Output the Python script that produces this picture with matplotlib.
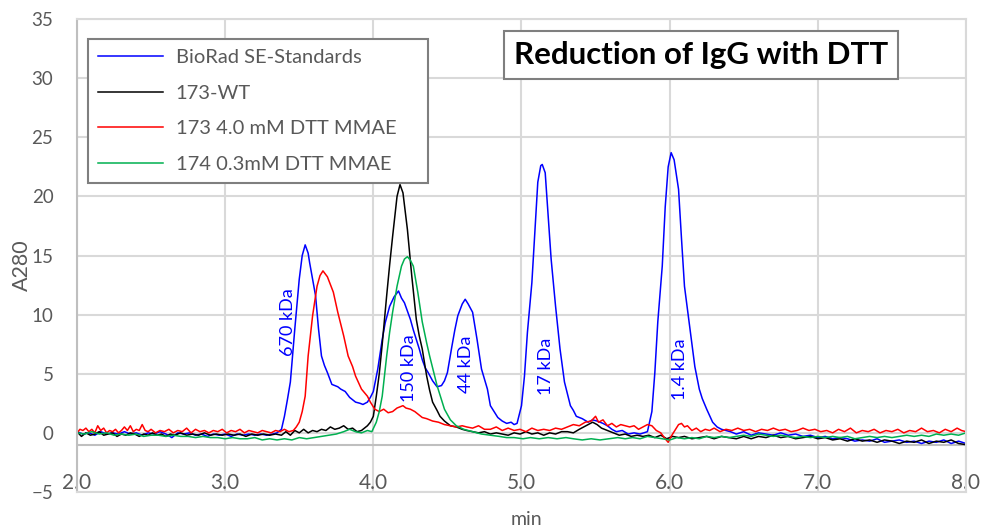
import matplotlib
matplotlib.use('Agg')
import matplotlib.pyplot as plt

plt.rcParams['font.family'] = ['Lato', 'DejaVu Sans']

# BioRad SE-Standards
blue_t = [2.00, 2.04, 2.08, 2.12, 2.16, 2.20, 2.24, 2.28, 2.32, 2.36, 2.40, 2.44, 2.48, 2.52, 2.56, 2.60,
          2.64, 2.68, 2.72, 2.76, 2.80, 2.84, 2.88, 2.92, 2.96, 3.00, 3.04, 3.08, 3.12, 3.16, 3.20, 3.24,
          3.28, 3.32, 3.35, 3.38, 3.40, 3.42, 3.44, 3.47, 3.50, 3.52, 3.54, 3.56, 3.57, 3.59, 3.61, 3.63,
          3.65, 3.67, 3.69, 3.72, 3.74, 3.76, 3.78, 3.81, 3.84, 3.86, 3.88, 3.91, 3.93, 3.96, 3.98, 4.00,
          4.03, 4.06, 4.08, 4.11, 4.14, 4.17, 4.19, 4.21, 4.23, 4.25, 4.27, 4.29, 4.31, 4.33, 4.35, 4.37,
          4.40, 4.43, 4.46, 4.48, 4.50, 4.53, 4.55, 4.57, 4.60, 4.62, 4.64, 4.67, 4.70, 4.73, 4.77, 4.79,
          4.82, 4.84, 4.87, 4.90, 4.93, 4.95, 4.97, 4.99, 5.00, 5.02, 5.04, 5.07, 5.09, 5.11, 5.13, 5.14,
          5.16, 5.18, 5.20, 5.23, 5.26, 5.29, 5.31, 5.33, 5.35, 5.37, 5.41, 5.45, 5.48, 5.51, 5.55, 5.58,
          5.61, 5.64, 5.68, 5.72, 5.76, 5.80, 5.85, 5.88, 5.90, 5.92, 5.95, 5.97, 5.99, 6.01, 6.03, 6.06,
          6.08, 6.10, 6.14, 6.17, 6.20, 6.22, 6.25, 6.29, 6.32, 6.35, 6.41, 6.45, 6.50, 6.55, 6.60, 6.65,
          6.70, 6.75, 6.80, 6.85, 6.90, 6.95, 7.00, 7.05, 7.10, 7.15, 7.20, 7.25, 7.30, 7.35, 7.40, 7.45,
          7.50, 7.55, 7.60, 7.65, 7.70, 7.75, 7.80, 7.85, 7.90, 7.95, 8.00]
blue_a = [0.1, -0.1, 0.0, -0.2, 0.1, -0.1, 0.0, -0.1, 0.1, -0.1, 0.0, -0.2, 0.0, -0.1, 0.1, -0.1,
          -0.4, 0.0, -0.1, 0.0, -0.2, -0.1, -0.3, -0.1, -0.2, -0.1, -0.3, -0.1, -0.2, -0.1, -0.2, -0.1,
          -0.2, -0.1, 0.0, 0.3, 1.4, 2.8, 4.3, 8.8, 13.0, 15.0, 15.9, 15.2, 14.4, 13.0, 11.6, 8.8,
          6.5, 5.7, 5.1, 4.1, 4.0, 3.9, 3.7, 3.5, 3.0, 2.8, 2.6, 2.5, 2.4, 2.6, 3.0, 3.5,
          5.4, 7.9, 9.3, 10.7, 11.5, 12.0, 11.4, 11.0, 10.3, 9.6, 8.7, 7.9, 7.1, 6.2, 5.5, 5.1,
          4.4, 3.9, 4.0, 4.4, 5.1, 7.3, 8.7, 9.9, 10.9, 11.3, 10.9, 10.2, 7.9, 5.4, 3.7, 2.3,
          1.7, 1.3, 1.0, 0.8, 0.9, 0.7, 0.8, 1.8, 2.3, 4.8, 8.5, 12.7, 16.9, 21.2, 22.6, 22.7,
          22.0, 18.3, 14.7, 10.7, 7.1, 4.3, 3.3, 2.3, 1.9, 1.4, 1.2, 0.9, 1.1, 1.0, 0.8, 0.6,
          0.3, 0.1, 0.2, -0.1, 0.0, -0.1, 0.1, 1.8, 5.1, 9.4, 14.1, 19.1, 22.5, 23.7, 23.1, 20.6,
          16.4, 12.4, 8.5, 5.6, 3.7, 2.9, 2.0, 0.9, 0.5, 0.3, 0.1, -0.1, 0.1, -0.2, 0.0, -0.1,
          -0.2, 0.0, -0.2, -0.1, -0.3, -0.2, -0.4, -0.3, -0.5, -0.4, -0.5, -0.7, -0.6, -0.7, -0.5, -0.8,
          -0.7, -0.6, -0.8, -0.7, -0.9, -0.7, -0.8, -0.6, -0.9, -0.7, -0.9]

# 173-WT
black_t = [2.00, 2.03, 2.06, 2.09, 2.12, 2.15, 2.18, 2.21, 2.24, 2.27, 2.30, 2.33, 2.36, 2.39, 2.42, 2.45,
           2.48, 2.51, 2.54, 2.57, 2.60, 2.63, 2.66, 2.70, 2.74, 2.78, 2.82, 2.86, 2.90, 2.94, 2.98, 3.02,
           3.06, 3.10, 3.14, 3.18, 3.22, 3.26, 3.30, 3.34, 3.38, 3.41, 3.44, 3.47, 3.50, 3.53, 3.56, 3.59,
           3.62, 3.65, 3.68, 3.71, 3.74, 3.77, 3.80, 3.83, 3.86, 3.89, 3.92, 3.94, 3.96, 3.98, 4.00, 4.02,
           4.04, 4.06, 4.09, 4.11, 4.13, 4.16, 4.18, 4.20, 4.23, 4.26, 4.29, 4.31, 4.33, 4.36, 4.38, 4.40,
           4.43, 4.45, 4.48, 4.52, 4.56, 4.60, 4.63, 4.67, 4.71, 4.75, 4.79, 4.83, 4.87, 4.91, 4.95, 4.99,
           5.03, 5.07, 5.11, 5.15, 5.19, 5.23, 5.27, 5.31, 5.35, 5.39, 5.42, 5.45, 5.48, 5.51, 5.54, 5.58,
           5.62, 5.66, 5.70, 5.74, 5.78, 5.82, 5.86, 5.90, 5.94, 5.98, 6.02, 6.06, 6.10, 6.15, 6.20, 6.25,
           6.30, 6.35, 6.40, 6.45, 6.50, 6.55, 6.60, 6.65, 6.70, 6.75, 6.80, 6.85, 6.90, 6.95, 7.00, 7.05,
           7.10, 7.15, 7.20, 7.25, 7.30, 7.35, 7.40, 7.45, 7.50, 7.55, 7.60, 7.65, 7.70, 7.75, 7.80, 7.85,
           7.90, 7.95, 8.00]
black_a = [0.1, -0.3, 0.0, -0.2, -0.1, 0.1, -0.2, -0.1, 0.0, -0.3, -0.1, -0.2, 0.0, -0.1, -0.3, -0.1,
           -0.2, 0.0, -0.2, -0.1, -0.3, -0.1, -0.2, 0.0, -0.2, -0.1, -0.2, 0.0, -0.2, -0.1, -0.2, -0.1,
           -0.2, -0.1, -0.3, -0.1, -0.2, -0.1, -0.2, -0.1, -0.2, 0.1, -0.2, 0.2, 0.0, 0.3, 0.0, 0.2,
           0.1, 0.3, 0.2, 0.5, 0.3, 0.4, 0.6, 0.3, 0.4, 0.1, 0.2, 0.4, 0.6, 0.9, 1.4, 3.1,
           5.0, 7.5, 11.6, 14.2, 16.6, 20.0, 21.0, 20.3, 17.2, 13.2, 9.6, 8.2, 7.1, 4.8, 3.6, 2.6,
           1.9, 1.4, 1.0, 0.6, 0.5, 0.3, 0.2, 0.1, 0.0, 0.1, -0.1, 0.0, -0.1, -0.2, 0.0, -0.1,
           0.1, -0.1, 0.0, -0.2, 0.0, -0.1, 0.1, 0.1, 0.0, 0.3, 0.5, 0.7, 0.9, 0.7, 0.4, 0.2,
           0.0, -0.2, -0.1, -0.3, -0.2, -0.3, -0.2, -0.4, -0.2, -0.5, -0.3, -0.4, -0.3, -0.5, -0.4, -0.3,
           -0.5, -0.3, -0.4, -0.5, -0.3, -0.5, -0.3, -0.4, -0.2, -0.4, -0.3, -0.5, -0.4, -0.3, -0.5, -0.4,
           -0.6, -0.5, -0.7, -0.5, -0.7, -0.6, -0.8, -0.6, -0.7, -0.9, -0.7, -0.8, -0.6, -0.9, -0.7, -0.8,
           -0.6, -0.9, -1.0]

# 173 4.0 mM DTT MMAE
red_t = [2.00, 2.02, 2.04, 2.06, 2.08, 2.10, 2.12, 2.14, 2.16, 2.18, 2.20, 2.22, 2.24, 2.26, 2.28, 2.30,
         2.32, 2.34, 2.36, 2.38, 2.40, 2.42, 2.44, 2.46, 2.48, 2.50, 2.53, 2.56, 2.59, 2.62, 2.65, 2.68,
         2.71, 2.74, 2.77, 2.80, 2.83, 2.86, 2.89, 2.92, 2.95, 2.98, 3.01, 3.04, 3.07, 3.10, 3.13, 3.16,
         3.19, 3.22, 3.25, 3.28, 3.31, 3.34, 3.37, 3.40, 3.43, 3.46, 3.48, 3.50, 3.52, 3.54, 3.56, 3.59,
         3.62, 3.64, 3.66, 3.69, 3.73, 3.76, 3.80, 3.83, 3.86, 3.88, 3.92, 3.96, 3.98, 4.01, 4.04, 4.07,
         4.10, 4.13, 4.16, 4.18, 4.20, 4.22, 4.25, 4.28, 4.31, 4.33, 4.36, 4.40, 4.44, 4.48, 4.52, 4.56,
         4.60, 4.63, 4.67, 4.71, 4.75, 4.79, 4.83, 4.87, 4.91, 4.95, 4.99, 5.03, 5.07, 5.11, 5.15, 5.19,
         5.23, 5.27, 5.31, 5.35, 5.39, 5.43, 5.47, 5.50, 5.52, 5.55, 5.58, 5.61, 5.64, 5.67, 5.70, 5.73,
         5.76, 5.79, 5.82, 5.85, 5.88, 5.91, 5.94, 5.97, 5.99, 6.01, 6.03, 6.06, 6.08, 6.10, 6.12, 6.15,
         6.18, 6.21, 6.24, 6.27, 6.30, 6.34, 6.38, 6.42, 6.46, 6.50, 6.54, 6.58, 6.62, 6.66, 6.70, 6.74,
         6.78, 6.82, 6.86, 6.90, 6.94, 6.98, 7.02, 7.06, 7.10, 7.14, 7.18, 7.22, 7.26, 7.30, 7.34, 7.38,
         7.42, 7.46, 7.50, 7.54, 7.58, 7.62, 7.66, 7.70, 7.74, 7.78, 7.82, 7.86, 7.90, 7.94, 7.97, 8.00]
red_a = [0.0, 0.3, 0.2, 0.4, 0.1, 0.3, 0.0, 0.6, 0.2, 0.4, 0.0, 0.2, 0.1, 0.3, 0.0, 0.2,
         0.5, 0.2, 0.6, 0.1, 0.3, 0.2, 0.7, 0.2, 0.1, 0.3, 0.0, 0.2, 0.1, 0.3, 0.0, 0.2,
         0.1, 0.4, 0.0, 0.3, 0.1, 0.2, 0.0, 0.2, 0.1, 0.3, 0.0, 0.2, 0.1, 0.3, 0.0, 0.2,
         0.1, 0.0, 0.2, 0.1, 0.0, 0.2, 0.1, 0.3, 0.1, 0.2, 0.5, 0.9, 1.8, 3.1, 6.5, 9.9,
         12.4, 13.3, 13.7, 13.2, 11.9, 10.2, 8.2, 6.5, 5.6, 4.8, 3.7, 3.1, 2.6, 2.0, 1.8, 2.0,
         1.7, 1.8, 2.1, 2.2, 2.3, 2.1, 2.0, 1.8, 1.5, 1.3, 1.2, 1.0, 0.9, 0.7, 0.6, 0.5,
         0.6, 0.5, 0.4, 0.6, 0.3, 0.3, 0.5, 0.2, 0.4, 0.2, 0.3, 0.1, 0.4, 0.2, 0.3, 0.2,
         0.4, 0.3, 0.5, 0.7, 0.6, 0.9, 1.0, 1.4, 0.9, 1.1, 0.6, 0.8, 0.5, 0.7, 0.6, 0.5,
         0.6, 0.3, 0.5, 0.7, 0.6, 0.2, 0.0, -0.5, -0.8, -0.3, 0.1, 0.7, 0.8, 0.5, 0.6, 0.2,
         0.4, 0.1, 0.3, 0.2, 0.4, 0.1, 0.3, 0.2, 0.4, 0.2, 0.3, 0.1, 0.3, 0.2, 0.4, 0.2,
         0.3, 0.1, 0.2, 0.4, 0.2, 0.3, 0.1, 0.2, 0.0, 0.3, 0.1, 0.4, 0.0, 0.2, 0.1, 0.3,
         0.0, 0.2, 0.1, 0.3, 0.0, 0.2, 0.1, 0.4, 0.1, 0.2, 0.0, 0.3, 0.1, 0.4, 0.2, 0.1]

# 174 0.3mM DTT MMAE
green_t = [2.00, 2.05, 2.10, 2.15, 2.20, 2.25, 2.30, 2.35, 2.40, 2.45, 2.50, 2.55, 2.60, 2.65, 2.70, 2.75,
           2.80, 2.85, 2.90, 2.95, 3.00, 3.05, 3.10, 3.15, 3.20, 3.25, 3.30, 3.35, 3.40, 3.45, 3.50, 3.55,
           3.60, 3.65, 3.70, 3.75, 3.80, 3.84, 3.88, 3.92, 3.96, 3.99, 4.02, 4.04, 4.06, 4.09, 4.11, 4.13,
           4.16, 4.19, 4.21, 4.23, 4.25, 4.27, 4.30, 4.33, 4.36, 4.38, 4.43, 4.48, 4.52, 4.56, 4.61, 4.67,
           4.73, 4.79, 4.85, 4.90, 4.95, 5.01, 5.06, 5.12, 5.18, 5.24, 5.30, 5.35, 5.41, 5.47, 5.53, 5.59,
           5.65, 5.70, 5.75, 5.80, 5.85, 5.90, 5.95, 6.00, 6.05, 6.10, 6.15, 6.20, 6.25, 6.30, 6.35, 6.40,
           6.45, 6.50, 6.55, 6.60, 6.65, 6.70, 6.75, 6.80, 6.85, 6.90, 6.95, 7.00, 7.05, 7.10, 7.15, 7.20,
           7.25, 7.30, 7.35, 7.40, 7.45, 7.50, 7.55, 7.60, 7.65, 7.70, 7.75, 7.80, 7.85, 7.90, 7.95, 8.00]
green_a = [0.0, -0.1, 0.1, -0.1, 0.0, -0.2, -0.1, -0.2, -0.1, -0.3, -0.2, -0.2, -0.3, -0.2, -0.3, -0.3,
           -0.4, -0.3, -0.4, -0.4, -0.5, -0.4, -0.5, -0.5, -0.4, -0.6, -0.5, -0.6, -0.5, -0.6, -0.4, -0.5,
           -0.4, -0.3, -0.2, -0.1, 0.1, 0.3, 0.1, 0.0, 0.2, 0.1, 0.9, 1.8, 3.1, 6.5, 8.5, 10.2,
           12.4, 14.1, 14.7, 14.9, 14.6, 14.1, 11.9, 9.4, 7.6, 6.5, 4.0, 2.0, 1.1, 0.6, 0.3, 0.1,
           -0.1, -0.2, -0.3, -0.4, -0.4, -0.5, -0.4, -0.5, -0.4, -0.5, -0.4, -0.5, -0.6, -0.5, -0.6, -0.5,
           -0.4, -0.5, -0.4, -0.5, -0.3, -0.4, -0.5, -0.6, -0.4, -0.5, -0.4, -0.5, -0.3, -0.4, -0.3, -0.4,
           -0.3, -0.2, -0.3, -0.1, -0.2, -0.3, -0.2, -0.3, -0.4, -0.3, -0.4, -0.3, -0.4, -0.3, -0.4, -0.3,
           -0.5, -0.4, -0.3, -0.4, -0.3, -0.4, -0.3, -0.2, -0.3, -0.2, -0.3, -0.1, -0.2, -0.1, -0.2, 0.0]

series_names = ['BioRad SE-Standards', '173-WT', '173 4.0 mM DTT MMAE', '174 0.3mM DTT MMAE']

# standard peak labels: text, time, A280 position
std_labels = ['670 kDa', '150 kDa', '44 kDa', '17 kDa', '1.4 kDa']
std_label_t = [3.424, 4.24, 4.625, 5.165, 6.07]
std_label_a = [9.4, 5.5, 5.8, 5.6, 5.4]

x_ticks = [2.0, 3.0, 4.0, 5.0, 6.0, 7.0, 8.0]
y_ticks = [-5, 0, 5, 10, 15, 20, 25, 30, 35]

grid_c = '#d9d9d9'
axis_c = '#bfbfbf'
text_c = '#595959'

fig = plt.figure(figsize=(9.86, 5.29), dpi=100)
ax = fig.add_axes([0.0781, 0.070, 0.9016, 0.894])

ax.plot(blue_t, blue_a, color='#0000ff', lw=1.1, label=series_names[0])
ax.plot(black_t, black_a, color='black', lw=1.1, label=series_names[1])
ax.plot(red_t, red_a, color='#ff0000', lw=1.1, label=series_names[2])
ax.plot(green_t, green_a, color='#00b050', lw=1.1, label=series_names[3])

for s, t, a in zip(std_labels, std_label_t, std_label_a):
    ax.text(t, a, s, rotation=90, color='#0000ff', fontsize=13, ha='center', va='center')

ax.set_xlim(2.0, 8.0)
ax.set_ylim(-5, 35)
ax.set_xticks(x_ticks)
ax.set_xticklabels(['{:.1f}'.format(x) for x in x_ticks])
ax.set_yticks(y_ticks)
ax.grid(color=grid_c, linewidth=1.5)
ax.set_axisbelow(True)
for side in ['top', 'bottom', 'right']:
    ax.spines[side].set_color(grid_c)
    ax.spines[side].set_linewidth(1.5)
ax.spines['left'].set_color(axis_c)
ax.spines['left'].set_linewidth(1.5)
ax.axhline(-1, color=axis_c, lw=1.5, zorder=1)
ax.tick_params(axis='x', length=0, pad=-14, labelsize=15, labelcolor=text_c)
ax.tick_params(axis='y', length=0, pad=17, labelsize=13.5, labelcolor=text_c)

ax.set_ylabel('A280', fontsize=15.5, color=text_c, va='center')
ax.yaxis.set_label_coords(-0.062, 0.48)
ax.set_xlabel('min', fontsize=14, color=text_c)
ax.xaxis.set_label_coords(0.506, -0.040)

leg = ax.legend(loc='upper left', bbox_to_anchor=(0.0124, 0.668, 0.3824, 0.2897), mode='expand',
                borderaxespad=0, fontsize=14.5, handlelength=3.2, handletextpad=0.65,
                labelspacing=0.92, borderpad=0.5, fancybox=False, framealpha=1)
leg.get_frame().set_edgecolor('#7f7f7f')
leg.get_frame().set_linewidth(1.5)
for t in leg.get_texts():
    t.set_color(text_c)

ax.text(0.702, 0.924, 'Reduction of IgG with DTT', transform=ax.transAxes, ha='center', va='center',
        fontsize=22.5, fontweight='bold', color='black',
        bbox=dict(boxstyle='square,pad=0.32', facecolor='white', edgecolor='#7f7f7f', linewidth=1.5))

fig.savefig('out.png', dpi=100)
